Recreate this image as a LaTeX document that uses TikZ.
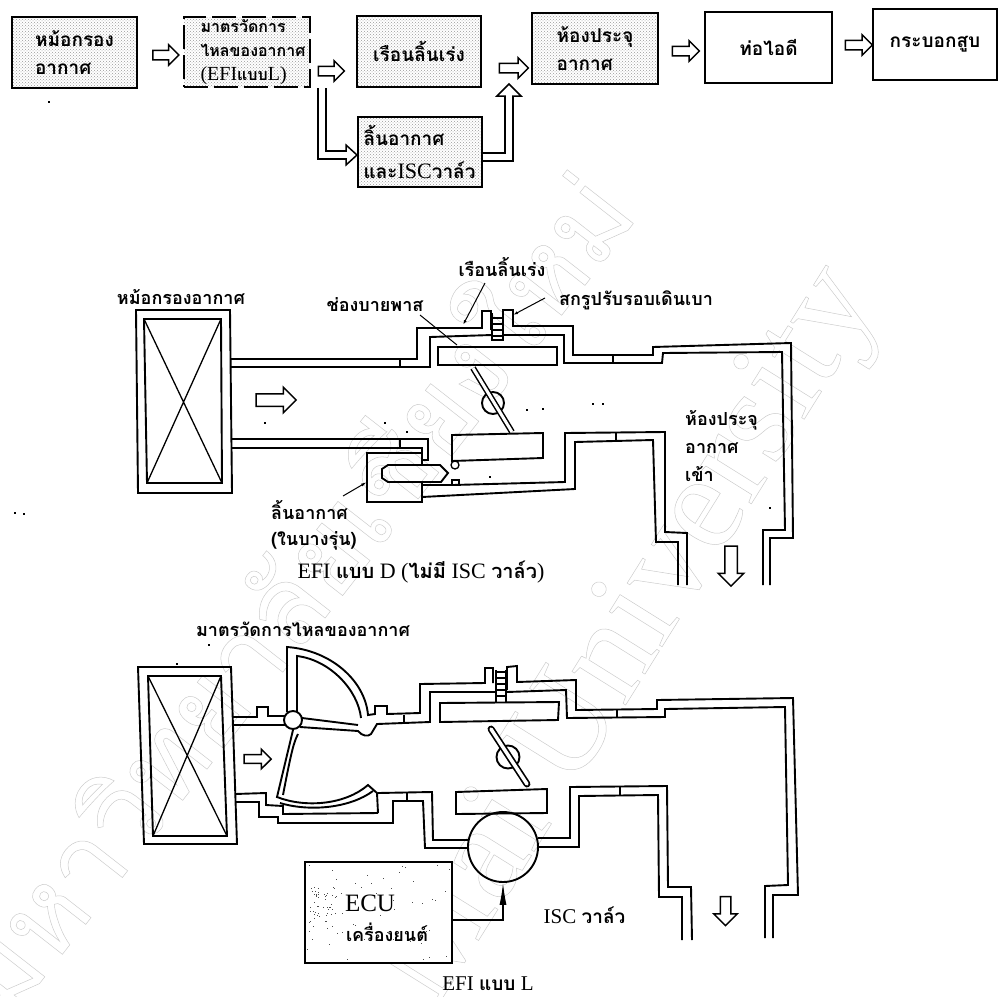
\documentclass[tikz,border=0pt]{standalone}
\usepackage{fontspec}
\usetikzlibrary{shapes.arrows,arrows.meta,patterns}
\setmainfont{Liberation Serif}
\newfontfamily\thaifont[Script=Thai]{Loma}
\newcommand{\tb}[1]{{\thaifont\bfseries #1}}
\newcommand{\outlineon}{\special{pdf:code q 1 Tr 0.5 w 0.8 G}}
\newcommand{\outlineoff}{\special{pdf:code 0 Tr Q}}
\tikzset{
  x=1pt,y=-1pt,
  flowbox/.style={draw,line width=2pt,rectangle,minimum width=124pt,minimum height=71pt,inner sep=0pt,align=left,font=\fontsize{19}{28}\selectfont},
  shaded/.style={preaction={fill=white},pattern=crosshatch dots,pattern color=black!40},
  hollow/.style={draw,fill=white,line width=1.5pt,single arrow,single arrow head extend=5.5pt,single arrow tip angle=90,minimum height=26pt,inner sep=4pt},
  pipe/.style={draw,line width=1.9pt,line join=miter},
  thinline/.style={draw,line width=1.3pt},
  lead/.style={draw,line width=1pt},
  lbl/.style={inner sep=0pt,align=center,font=\fontsize{18}{22}\selectfont},
  captext/.style={inner sep=0pt,font=\fontsize{22}{24}\selectfont},
  elbow/.style={draw,line width=1.5pt,double,double distance=6.5pt,line join=miter},
  tiphead/.style={draw,line width=1.5pt,fill=white},
  speck/.style={fill=black,inner sep=0pt,minimum size=1.5pt,rectangle},
}
\begin{document}
\begin{tikzpicture}
\useasboundingbox (0,0) rectangle (1001,996);
% ---------- faint watermark
\node[rotate=58,anchor=base east,inner sep=0pt,font=\fontsize{138}{140}\selectfont] (wm1) at (880,298) {\outlineon Mai University\outlineoff};
\node[rotate=52,anchor=base east,inner sep=0pt,font=\thaifont\fontsize{110}{120}\selectfont] (wm2) at (640,215) {\outlineon มหาวิทยาลัยเชียงใหม่\outlineoff};
% ---------- flow boxes
\node[flowbox,shaded,minimum width=125pt] (b1) at (74.5,52.5) {\tb{หม้อกรอง}\\\tb{อากาศ}};
\node[flowbox,shaded,minimum width=126pt,minimum height=70pt,dash pattern=on 24pt off 6pt,font=\fontsize{16}{24}\selectfont] (b2) at (247,52) {\hspace*{12pt}\tb{มาตรวัดการ}\\\hspace*{12pt}\tb{ไหลของอากาศ}\\\hspace*{12pt}{\fontsize{20}{24}\selectfont (EFI\tb{\fontsize{16}{24}\selectfont แบบ}L)}};
\node[flowbox,shaded] (b3) at (419,51) {\tb{เรือนลิ้นเร่ง}};
\node[flowbox,shaded,minimum height=70pt,font=\fontsize{19}{33}\selectfont] (b4) at (419.5,152) {\tb{ลิ้นอากาศ}\\\tb{และ}{\fontsize{22}{33}\selectfont ISC}\tb{วาล์ว}};
\node[flowbox,shaded,minimum width=126pt] (b5) at (595,48.5) {\tb{ห้องประจุ}\\\tb{อากาศ}};
\node[flowbox,minimum width=127pt] (b6) at (768.5,47) {\tb{ท่อไอดี}};
\node[flowbox] (b7) at (935,44.5) {\tb{กระบอกสูบ}};
% ---------- flow arrows
\node[hollow] (a1) at (163.5,55) {};
\node[hollow] (a2) at (329,71) {};
\node[hollow,minimum height=29pt] (a3) at (511.5,68) {};
\node[hollow,minimum height=27pt] (a4) at (683.5,51) {};
\node[hollow,minimum height=27pt] (a5) at (856.5,45) {};
\coordinate (e1) at (348,155);
\coordinate (e2) at (509,96);
\draw[elbow] ([xshift=11pt]b2.south east) |- (e1);
\draw[tiphead] (346,145) -- (357,155) -- (346,165) -- cycle;
\draw[white,line width=6.5pt] (344,155) -- (348,155);
\draw[elbow] ([yshift=-5pt]b4.east) -| (e2);
\draw[tiphead] (497,96) -- (509,84) -- (521,96) -- cycle;
\draw[white,line width=6.5pt] (509,94) -- (509,99);
% ---------- EFI D
\node[lbl] (lf) at (181,297) {\tb{หม้อกรองอากาศ}};
\node[lbl] (lb) at (375,305) {\tb{ช่องบายพาส}};
\node[lbl] (lh) at (502,267) {\tb{เรือนลิ้นเร่ง}};
\node[lbl] (ls) at (636,300) {\tb{สกรูปรับรอบเดินเบา}};
\node[lbl,align=left,anchor=west,font=\fontsize{18}{28}\selectfont] (lm) at (685,446) {\tb{ห้องประจุ}\\\tb{อากาศ}\\\tb{เข้า}};
\node[lbl,align=left,anchor=west,font=\fontsize{18}{26}\selectfont] (lv) at (271,525) {\tb{ลิ้นอากาศ}\\\tb{(ในบางรุ่น)}};
\node[captext] (cd) at (421,572) {EFI \tb{\fontsize{20}{24}\selectfont แบบ} D (\tb{\fontsize{20}{24}\selectfont ไม่มี} ISC \tb{\fontsize{20}{24}\selectfont วาล์ว})};
% filter
\draw[pipe] (136,310) -- (230,310) -- (232,493) -- (138,493) -- cycle;
\draw[pipe] (144,319) -- (221,319) -- (222,483) -- (147,483) -- cycle;
\draw[thinline] (144,319) -- (222,483) (221,319) -- (147,483);
% top pipe
\draw[pipe] (230,359) -- (417,359) -- (417,328) -- (482,328) -- (482,311) -- (491,311) -- (491,330);
\draw[pipe] (503,330) -- (503,310) -- (513,310) -- (513,326) -- (573,326) -- (573,355) -- (653,355) -- (653,347) -- (791,343) -- (793,538) -- (770,538) -- (770,585);
\draw[pipe] (230,367) -- (430,367) -- (430,337) -- (492,335);
\draw[pipe] (503,335) -- (564,335) -- (564,363) -- (662,363) -- (663,353) -- (782,352) -- (785,530) -- (763,530) -- (763,585);
\draw[thinline] (400,359) -- (400,367) (613,356) -- (613,363);
% screw
\draw[pipe] (492,313) -- (492,340) -- (503,340) -- (503,313);
\foreach \y in {318,324,330,336} \draw[thinline] (492,\y) -- (503,\y);
% throttle
\draw[pipe] (438,347) rectangle (557,365);
\draw[pipe] (452,435) -- (543,433) -- (543,458) -- (452,461) -- cycle;
\draw[pipe] (493,403) circle[radius=11];
\draw[draw,line width=1.5pt,double,double distance=3pt] (473,368) -- (512,432);
\draw[thinline] (455,465) circle[radius=4];
\draw[thinline] (452,485) -- (452,480) -- (459,480) -- (459,485);
% lower pipe
\draw[pipe] (232,439) -- (428,439) -- (428,460) -- (422,460);
\draw[pipe] (232,448) -- (422,448) -- (422,465);
\draw[thinline] (400,439) -- (400,448);
\draw[pipe] (422,453) -- (367,453) -- (367,502) -- (422,502) -- (422,483);
\draw[pipe] (388,465) -- (440,465) -- (448,473) -- (441,482) -- (388,482) -- (382,478) -- (382,469) -- cycle;
\draw[pipe] (422,485) -- (453,485) -- (565,482) -- (565,433) -- (665,432) -- (665,532) -- (687,533) -- (687,585);
\draw[pipe] (422,497) -- (575,489) -- (575,442) -- (653,440) -- (656,542) -- (678,542) -- (678,585);
\draw[thinline] (616,432) -- (616,441);
% leaders
\coordinate (ld0) at (485,283);
\coordinate (ld1) at (463,325);
\coordinate (lb0) at (420,315);
\coordinate (ld2) at (457,345);
\coordinate (ls0) at (545,298);
\coordinate (ld3) at (513,315);
\coordinate (lv0) at (343,496);
\coordinate (ld4) at (367,482);
\draw[lead,-{Latex[length=5pt,width=3pt]}] (ld0) -- (ld1);
\draw[lead] (lb0) -- (ld2);
\draw[lead,-{Latex[length=5pt,width=3pt]}] (ls0) -- (ld3);
\draw[lead,-{Latex[length=6pt,width=3pt]}] (lv0) -- (ld4);
\node[hollow,minimum height=40pt,inner sep=5.5pt,single arrow head extend=6.5pt] (af1) at (273,400) {};
\node[hollow,rotate=-90,minimum height=40pt,inner sep=5.5pt,single arrow head extend=6.5pt] (af2) at (731,563) {};
\foreach \px/\py in {49/102,15/513,24/514,265/423,385/423,407/432,527/410,543/409,593/404,603/404,770/508,490/477,209/645,177/664}
  \node[speck] at (\px,\py) {};
% ---------- EFI L
\node[lbl] (lm2) at (303,629) {\tb{มาตรวัดการไหลของอากาศ}};
\draw[pipe] (138,667) -- (231,667) -- (237,844) -- (144,844) -- cycle;
\draw[pipe] (148,676) -- (221,676) -- (227,836) -- (153,836) -- cycle;
\draw[thinline] (148,676) -- (227,836) (221,676) -- (153,836);
% upper pipe L
\draw[pipe] (232,717) -- (257,717) -- (257,707) -- (268,707) -- (268,716) -- (285,716);
\draw[pipe] (232,725) -- (285,725);
\node[draw,circle,line width=1.9pt,minimum size=18pt,inner sep=0pt,fill=white] (pv) at (293,720) {};
\draw[pipe] (287,712) -- (287,647) .. controls (330,650) and (365,680) .. (368,715) -- (375,714) -- (375,706) -- (387,706) -- (387,714) -- (420,713) -- (420,684) -- (485,683) -- (485,668) -- (493,668) -- (493,683);
\draw[pipe] (297,712) -- (297,656) .. controls (330,660) and (358,690) .. (361,718);
\draw[pipe] (302,718) -- (358,725);
\draw[pipe] (300,727) -- (358,731) .. controls (362,736) and (368,737) .. (371,734) -- (377,724) -- (430,722) -- (430,692) -- (496,692);
\draw[thinline] (404,715) -- (404,722);
\draw[pipe] (507,690) -- (507,667) -- (517,666) -- (517,682) -- (576,680) -- (576,710) -- (657,709) -- (657,700) -- (793,698) -- (798,895) -- (773,895) -- (773,938);
\draw[pipe] (507,692) -- (566,690) -- (567,718) -- (665,717) -- (665,709) -- (785,707) -- (788,885) -- (765,886) -- (765,938);
\draw[thinline] (617,709) -- (617,717);
% screw L
\draw[pipe] (496,670) -- (496,702) (506,670) -- (506,702);
\foreach \y in {672,678,684,690,696} \draw[thinline] (496,\y) -- (506,\y);
\draw[pipe] (440,703) -- (559,702) -- (558,720) -- (440,722) -- cycle;
\draw[pipe] (456,792) -- (547,789) -- (547,813) -- (456,814) -- cycle;
\draw[pipe] (508,757) circle[radius=11.5];
\draw[draw,line width=1.7pt,double,double distance=3.5pt,line cap=round] (491,729) -- (527,784);
% vane
\draw[pipe] (293,730) -- (277,797) .. controls (305,808) and (345,805) .. (368,785) -- (377,793) -- (378,813);
\draw[pipe] (298,734) .. controls (294,742) and (292,748) .. (283,795);
\draw[pipe] (280,803) .. controls (310,812) and (350,808) .. (373,791);
% lower pipe L
\draw[pipe] (235,794) -- (266,793) -- (266,805) -- (283,806) -- (283,814) -- (378,813);
\draw[pipe] (378,793) -- (432,792) -- (433,840) -- (468,840);
\draw[pipe] (235,802) -- (259,802) -- (259,817) -- (278,817) -- (278,823) -- (393,823) -- (393,801) -- (423,801) -- (425,848) -- (467,848);
\draw[thinline] (407,793) -- (407,801);
\node[draw,circle,line width=1.9pt,minimum size=70pt,inner sep=0pt] (valve) at (503,847) {};
\draw[pipe] (538,838) -- (570,838) -- (570,787) -- (667,786) -- (668,887) -- (691,887) -- (692,940);
\draw[pipe] (538,847) -- (579,847) -- (579,796) -- (658,795) -- (659,897) -- (682,897) -- (682,940);
\draw[thinline] (620,787) -- (620,795);
\node[hollow,minimum height=27pt,inner sep=3.6pt] (af3) at (255.5,759) {};
\node[hollow,rotate=-90,minimum height=29pt,inner sep=4.5pt,single arrow head extend=6.5pt] (af4) at (725.5,908.5) {};
% ECU
\node[flowbox,line width=1.5pt,minimum width=147pt,minimum height=101pt,preaction={fill=white}] (ecu) at (378.5,912.5) {};
\pgfmathsetseed{11}
\foreach \i in {1,...,50} {
  \pgfmathsetmacro\px{309+28*rnd}\pgfmathsetmacro\py{885+45*rnd}
  \fill[black!70] (\px,\py) rectangle ++(1,1);
}
\foreach \i in {1,...,50} {
  \pgfmathsetmacro\px{307+143*rnd}\pgfmathsetmacro\py{864+97*rnd}
  \fill[black!70] (\px,\py) rectangle ++(1,1);
}
\node[inner sep=0pt,font=\fontsize{25}{28}\selectfont] (et) at (370,903) {ECU};
\node[lbl] (et2) at (387,932) {\tb{เครื่องยนต์}};
\draw[line width=1.1pt,-{Latex[length=22pt,width=7pt]}] ([yshift=-7.5pt]ecu.east) -| (valve.south);
\node[captext,font=\fontsize{21}{24}\selectfont] (iv) at (584.5,915) {ISC \tb{\fontsize{19}{24}\selectfont วาล์ว}};
\node[captext,font=\fontsize{21}{24}\selectfont] (cl) at (488,984) {EFI \tb{\fontsize{19}{24}\selectfont แบบ} L};
\end{tikzpicture}
\end{document}
